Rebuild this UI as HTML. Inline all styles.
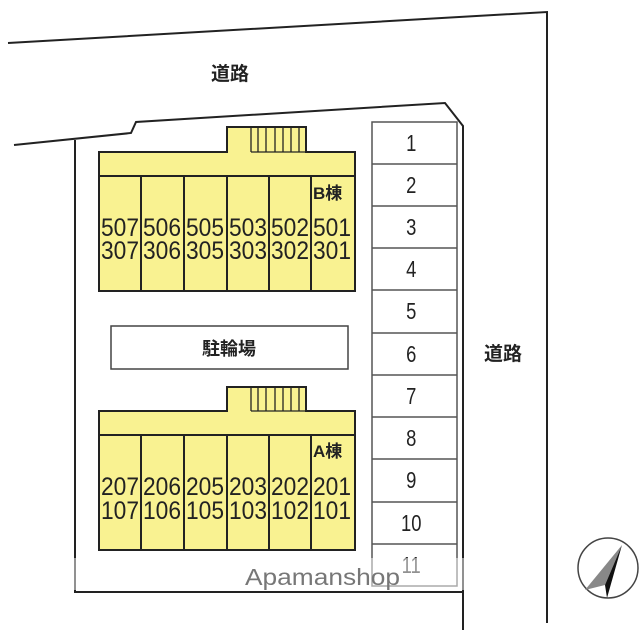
<!DOCTYPE html>
<html><head><meta charset="utf-8"><style>body{margin:0;background:#fff}svg{display:block}</style></head><body>
<svg width="640" height="640" viewBox="0 0 640 640" xmlns="http://www.w3.org/2000/svg" font-family="Liberation Sans, Noto Sans CJK JP, sans-serif">
<g fill="none" stroke="#222" stroke-width="2">
<polyline points="8,43 547,12 547,623"/>
<polyline points="14,145 131,133 136,122 445,103 463,126 463,630"/>
<polyline points="75,140 75,592 463,592"/>
</g>
<text x="230" y="80" font-size="19" font-weight="bold" text-anchor="middle" fill="#222">道路</text>
<text x="503" y="360" font-size="19" font-weight="bold" text-anchor="middle" fill="#222">道路</text>
<g fill="#fff" stroke="#555" stroke-width="1.5">
<rect x="372" y="122" width="85" height="464"/>
</g>
<g stroke="#555" stroke-width="1.5">
<line x1="372" y1="164" x2="457" y2="164"/><line x1="372" y1="206" x2="457" y2="206"/><line x1="372" y1="248" x2="457" y2="248"/><line x1="372" y1="290" x2="457" y2="290"/><line x1="372" y1="333" x2="457" y2="333"/><line x1="372" y1="375" x2="457" y2="375"/><line x1="372" y1="417" x2="457" y2="417"/><line x1="372" y1="459" x2="457" y2="459"/><line x1="372" y1="502" x2="457" y2="502"/><line x1="372" y1="544" x2="457" y2="544"/>
</g>
<g font-size="23" text-anchor="middle" fill="#222" transform="scale(0.8,1)">
<text x="514" y="151">1</text><text x="514" y="193">2</text><text x="514" y="235">3</text><text x="514" y="277">4</text><text x="514" y="319">5</text><text x="514" y="362">6</text><text x="514" y="404">7</text><text x="514" y="446">8</text><text x="514" y="488">9</text><text x="514" y="531">10</text><text x="514" y="573">11</text>
</g>
<g stroke="#222" stroke-width="2" fill="#f9f291">
<rect x="227" y="127" width="79" height="27"/>
<rect x="99" y="152" width="256" height="139"/>
<line x1="99" y1="176" x2="355" y2="176"/>
<line x1="141" y1="176" x2="141" y2="291"/><line x1="184" y1="176" x2="184" y2="291"/><line x1="227" y1="176" x2="227" y2="291"/><line x1="269" y1="176" x2="269" y2="291"/><line x1="311" y1="176" x2="311" y2="291"/>
</g>
<rect x="228" y="146" width="77" height="8" fill="#f9f291"/>
<g stroke="#222" stroke-width="1.3"><line x1="251" y1="127" x2="251" y2="152"/><line x1="258" y1="127" x2="258" y2="152"/><line x1="266" y1="127" x2="266" y2="152"/><line x1="275" y1="127" x2="275" y2="152"/><line x1="283" y1="127" x2="283" y2="152"/><line x1="291" y1="127" x2="291" y2="152"/><line x1="299" y1="127" x2="299" y2="152"/><line x1="251" y1="152" x2="306" y2="152"/></g>
<g font-size="25" fill="#222">
<text x="101" y="236" textLength="38" lengthAdjust="spacingAndGlyphs">507</text><text x="143" y="236" textLength="38" lengthAdjust="spacingAndGlyphs">506</text><text x="186" y="236" textLength="38" lengthAdjust="spacingAndGlyphs">505</text><text x="229" y="236" textLength="38" lengthAdjust="spacingAndGlyphs">503</text><text x="271" y="236" textLength="38" lengthAdjust="spacingAndGlyphs">502</text><text x="313" y="236" textLength="38" lengthAdjust="spacingAndGlyphs">501</text>
<text x="101" y="259" textLength="38" lengthAdjust="spacingAndGlyphs">307</text><text x="143" y="259" textLength="38" lengthAdjust="spacingAndGlyphs">306</text><text x="186" y="259" textLength="38" lengthAdjust="spacingAndGlyphs">305</text><text x="229" y="259" textLength="38" lengthAdjust="spacingAndGlyphs">303</text><text x="271" y="259" textLength="38" lengthAdjust="spacingAndGlyphs">302</text><text x="313" y="259" textLength="38" lengthAdjust="spacingAndGlyphs">301</text>
</g>
<text x="313" y="199" font-size="17" font-weight="bold" fill="#222">B棟</text>
<rect x="111" y="326" width="237" height="43" fill="#fff" stroke="#444" stroke-width="1.5"/>
<text x="229" y="355" font-size="18" font-weight="bold" text-anchor="middle" fill="#222">駐輪場</text>
<g stroke="#222" stroke-width="2" fill="#f9f291">
<rect x="227" y="387" width="79" height="26"/>
<rect x="99" y="411" width="256" height="139"/>
<line x1="99" y1="435" x2="355" y2="435"/>
<line x1="141" y1="435" x2="141" y2="550"/><line x1="184" y1="435" x2="184" y2="550"/><line x1="227" y1="435" x2="227" y2="550"/><line x1="269" y1="435" x2="269" y2="550"/><line x1="311" y1="435" x2="311" y2="550"/>
</g>
<rect x="228" y="405" width="77" height="8" fill="#f9f291"/>
<g stroke="#222" stroke-width="1.3"><line x1="251" y1="387" x2="251" y2="411"/><line x1="258" y1="387" x2="258" y2="411"/><line x1="266" y1="387" x2="266" y2="411"/><line x1="275" y1="387" x2="275" y2="411"/><line x1="283" y1="387" x2="283" y2="411"/><line x1="291" y1="387" x2="291" y2="411"/><line x1="299" y1="387" x2="299" y2="411"/><line x1="251" y1="411" x2="306" y2="411"/></g>
<g font-size="25" fill="#222">
<text x="101" y="495" textLength="38" lengthAdjust="spacingAndGlyphs">207</text><text x="143" y="495" textLength="38" lengthAdjust="spacingAndGlyphs">206</text><text x="186" y="495" textLength="38" lengthAdjust="spacingAndGlyphs">205</text><text x="229" y="495" textLength="38" lengthAdjust="spacingAndGlyphs">203</text><text x="271" y="495" textLength="38" lengthAdjust="spacingAndGlyphs">202</text><text x="313" y="495" textLength="38" lengthAdjust="spacingAndGlyphs">201</text>
<text x="101" y="519" textLength="38" lengthAdjust="spacingAndGlyphs">107</text><text x="143" y="519" textLength="38" lengthAdjust="spacingAndGlyphs">106</text><text x="186" y="519" textLength="38" lengthAdjust="spacingAndGlyphs">105</text><text x="229" y="519" textLength="38" lengthAdjust="spacingAndGlyphs">103</text><text x="271" y="519" textLength="38" lengthAdjust="spacingAndGlyphs">102</text><text x="313" y="519" textLength="38" lengthAdjust="spacingAndGlyphs">101</text>
</g>
<text x="313" y="457" font-size="17" font-weight="bold" fill="#222">A棟</text>
<rect x="73" y="558" width="392" height="32" fill="#fff" opacity="0.5"/>
<text x="245" y="585" font-size="23" fill="#777" textLength="155" lengthAdjust="spacingAndGlyphs">Apamanshop</text>
<ellipse cx="608" cy="568" rx="30" ry="30" fill="none" stroke="#444" stroke-width="1.5"/>
<polygon points="622,545 585,590 605,585" fill="#888"/>
<polygon points="622,545 605,585 607,598" fill="#111"/>
</svg>
</body></html>
